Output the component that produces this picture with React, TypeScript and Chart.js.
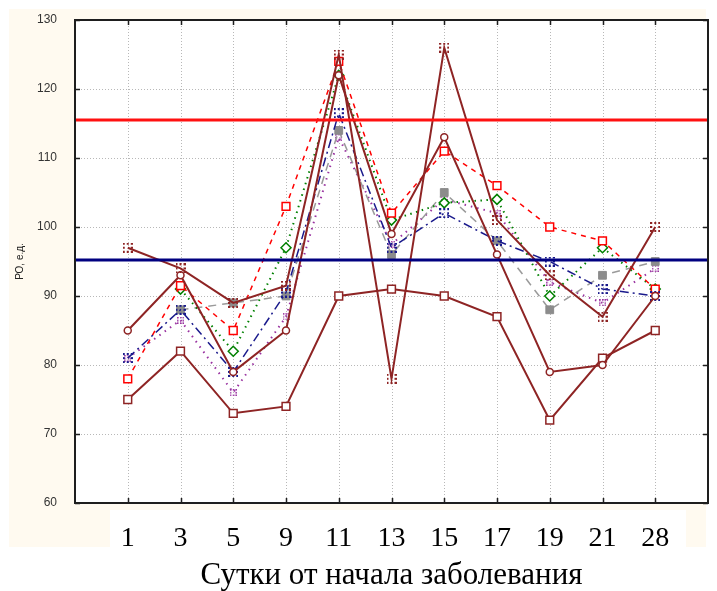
import React, { useEffect, useRef } from 'react';
import { Chart, registerables } from 'chart.js';

Chart.register(...registerables);

// ---- data ----
const categories = ['1', '3', '5', '9', '11', '13', '15', '17', '19', '21', '28'];
const yTickValues = [60, 70, 80, 90, 100, 110, 120, 130];
const redSeries = [78, 91.5, 85, 103, 124, 102, 111, 106, 100, 98, 91];
const greenSeries = [null, 91, 82, 97, 122, 101, 103.5, 104, 90, 97, 91];
const blueSeries = [81, 88, 79, 90.5, 116.5, 97, 102, 98, 95, 91, 90];
const graySeries = [null, 88, 89, 90, 114, 96, 105, 98, 88, 93, 95];
const purpleSeries = [81, 86.5, 76, 87, 113, 97.5, 104, 102, 92, 89, 94];
const circleSeries = [85, 93, 79, 85, 122, 99, 113, 96, 79, 80, 90];
const squareSeries = [75, 82, 73, 74, 90, 91, 90, 87, 72, 81, 85];
const dottedSquareSeries = [97, 94, 89, 91.5, 125, 78, 126, 101, 93, 87, 100];
const upperLimit = 115.5;
const lowerLimit = 95.2;
const yTitle = 'РО, е.д.';
const xTitle = 'Сутки от начала заболевания';

const MAROON = '#8E2424';

function toPoints(arr: (number | null)[]) {
  return arr.map((v, i) => ({ x: i, y: v }));
}

function dottedSquare(color: string, size: number, dot: number): HTMLCanvasElement {
  const c = document.createElement('canvas');
  c.width = size;
  c.height = size;
  const g = c.getContext('2d')!;
  g.fillStyle = color;
  const step = dot * 2;
  for (let i = 0; i <= size - dot; i += step) {
    g.fillRect(i, 0, dot, dot);
    g.fillRect(i, size - dot, dot, dot);
    g.fillRect(0, i, dot, dot);
    g.fillRect(size - dot, i, dot, dot);
  }
  g.fillRect(size - dot, size - dot, dot, dot);
  return c;
}

const framePlugin = {
  id: 'framePlugin',
  beforeDraw(chart: any) {
    const { ctx, chartArea: a } = chart;
    const xs = chart.scales.x;
    const ys = chart.scales.y;
    ctx.save();
    ctx.fillStyle = '#ffffff';
    ctx.fillRect(0, 0, chart.width, chart.height);
    ctx.fillStyle = '#FFFAF0';
    ctx.fillRect(9, 9, 697, 538);
    ctx.fillStyle = '#ffffff';
    ctx.fillRect(110, 510, 576, 37);
    ctx.fillRect(a.left, a.top, a.right - a.left, a.bottom - a.top);
    ctx.strokeStyle = '#b8b8b8';
    ctx.lineWidth = 1;
    ctx.setLineDash([1, 2]);
    xs.ticks.forEach((t: any) => {
      const px = Math.round(xs.getPixelForValue(t.value)) + 0.5;
      ctx.beginPath();
      ctx.moveTo(px, a.top);
      ctx.lineTo(px, a.bottom);
      ctx.stroke();
    });
    ys.ticks.forEach((t: any) => {
      const py = Math.round(ys.getPixelForValue(t.value)) + 0.5;
      ctx.beginPath();
      ctx.moveTo(a.left, py);
      ctx.lineTo(a.right, py);
      ctx.stroke();
    });
    ctx.restore();
  },
  afterDatasetsDraw(chart: any) {
    const { ctx, chartArea: a } = chart;
    const xs = chart.scales.x;
    const ys = chart.scales.y;
    ctx.save();
    ctx.strokeStyle = '#1e1e1e';
    ctx.lineWidth = 1.5;
    const tl = 5;
    xs.ticks.forEach((t: any) => {
      const px = Math.round(xs.getPixelForValue(t.value)) + 0.5;
      ctx.beginPath();
      ctx.moveTo(px, a.bottom);
      ctx.lineTo(px, a.bottom - tl);
      ctx.moveTo(px, a.top);
      ctx.lineTo(px, a.top + tl);
      ctx.stroke();
    });
    ys.ticks.forEach((t: any) => {
      const py = Math.round(ys.getPixelForValue(t.value)) + 0.5;
      ctx.beginPath();
      ctx.moveTo(a.left, py);
      ctx.lineTo(a.left + tl, py);
      ctx.moveTo(a.right, py);
      ctx.lineTo(a.right - tl, py);
      ctx.stroke();
    });
    ctx.lineWidth = 2;
    ctx.strokeRect(a.left, a.top, a.right - a.left, a.bottom - a.top);
    ctx.restore();
  },
};

export default function App() {
  const ref = useRef<HTMLCanvasElement | null>(null);
  useEffect(() => {
    document.body.style.margin = '0';
    const canvas = ref.current;
    if (!canvas) return;
    const lineClip = { left: 3, right: 4, top: 0, bottom: 0 };
    const chart = new Chart(canvas, {
      type: 'line',
      data: {
        datasets: [
          {
            label: 'upper',
            data: [{ x: -1, y: upperLimit }, { x: 11, y: upperLimit }],
            borderColor: '#FF1010',
            borderWidth: 3,
            pointRadius: 0,
            clip: lineClip as any,
          },
          {
            label: 'lower',
            data: [{ x: -1, y: lowerLimit }, { x: 11, y: lowerLimit }],
            borderColor: '#000080',
            borderWidth: 3,
            pointRadius: 0,
            clip: lineClip as any,
          },
          {
            label: 'dottedSquare',
            data: toPoints(dottedSquareSeries),
            borderColor: MAROON,
            borderWidth: 2,
            pointStyle: dottedSquare(MAROON, 10, 2) as any,
            pointRadius: 5,
          },
          {
            label: 'circle',
            data: toPoints(circleSeries),
            borderColor: MAROON,
            borderWidth: 2,
            pointStyle: 'circle',
            pointRadius: 3.5,
            pointBorderWidth: 1.5,
            pointBackgroundColor: '#ffffff',
          },
          {
            label: 'square',
            data: toPoints(squareSeries),
            borderColor: MAROON,
            borderWidth: 2,
            pointStyle: 'rect',
            pointRadius: 5.5,
            pointBorderWidth: 1.5,
            pointBackgroundColor: '#ffffff',
          },
          {
            label: 'blue',
            data: toPoints(blueSeries),
            borderColor: '#1a1a8c',
            borderWidth: 1.5,
            borderDash: [9, 4, 2, 4],
            pointStyle: dottedSquare('#1a1a8c', 10, 2) as any,
            pointRadius: 5,
          },
          {
            label: 'red',
            data: toPoints(redSeries),
            borderColor: '#FF0000',
            borderWidth: 1.5,
            borderDash: [5, 5],
            pointStyle: 'rect',
            pointRadius: 5.5,
            pointBorderWidth: 1.5,
            pointBackgroundColor: '#ffffff',
            pointBorderColor: '#FF0000',
          },
          {
            label: 'green',
            data: toPoints(greenSeries),
            borderColor: '#008000',
            borderWidth: 2,
            borderDash: [1.5, 4.5],
            pointStyle: 'rectRot',
            pointRadius: 5,
            pointBorderWidth: 1.5,
            pointBackgroundColor: '#ffffff',
            pointBorderColor: '#008000',
          },
          {
            label: 'gray',
            data: toPoints(graySeries),
            borderColor: '#9a9a9a',
            borderWidth: 1.5,
            borderDash: [8, 6],
            pointStyle: 'rect',
            pointRadius: 5.5,
            pointBorderWidth: 1,
            pointBackgroundColor: '#8c8c8c',
            pointBorderColor: '#8c8c8c',
          },
          {
            label: 'purple',
            data: toPoints(purpleSeries),
            borderColor: '#9932A0',
            borderWidth: 2,
            borderDash: [1.5, 5],
            pointStyle: dottedSquare('#9932A0', 7, 1.5) as any,
            pointRadius: 4,
          },
        ],
      },
      plugins: [framePlugin as any],
      options: {
        animation: false,
        responsive: false,
        devicePixelRatio: 1,
        layout: { padding: { top: 20, right: 9, left: 0, bottom: 0 } },
        plugins: { legend: { display: false }, tooltip: { enabled: false } },
        elements: { line: { tension: 0 } },
        scales: {
          x: {
            type: 'linear',
            min: -1,
            max: 11,
            grid: { display: false },
            border: { display: false },
            afterBuildTicks: (scale: any) => {
              scale.ticks = categories.map((_, i) => ({ value: i }));
            },
            afterFit: (scale: any) => {
              scale.height = 88;
            },
            ticks: {
              autoSkip: false,
              maxRotation: 0,
              padding: 11,
              color: '#000000',
              font: { family: '"Liberation Serif", serif', size: 28 },
              callback: (v: any) => categories[Math.round(Number(v))] ?? '',
            },
            title: {
              display: true,
              text: xTitle,
              color: '#000000',
              font: { family: '"Liberation Serif", serif', size: 31, lineHeight: 1 },
              padding: { top: 0, bottom: 0 },
            },
          },
          y: {
            type: 'linear',
            min: 60,
            max: 130,
            grid: { display: false },
            border: { display: false },
            afterBuildTicks: (scale: any) => {
              scale.ticks = yTickValues.map((v) => ({ value: v }));
            },
            afterFit: (scale: any) => {
              scale.width = 75;
            },
            ticks: {
              padding: 10,
              color: '#333333',
              font: { family: '"Liberation Sans", Arial, sans-serif', size: 12 },
            },
            title: {
              display: true,
              text: yTitle,
              color: '#222222',
              font: { family: '"Liberation Sans", Arial, sans-serif', size: 10 },
              padding: { top: 14, bottom: 0 },
            },
          },
        },
      },
    } as any);
    return () => chart.destroy();
  }, []);
  return (
    <div style={{ width: 717, height: 591 }}>
      <canvas ref={ref} width={717} height={591} style={{ display: 'block' }} />
    </div>
  );
}
